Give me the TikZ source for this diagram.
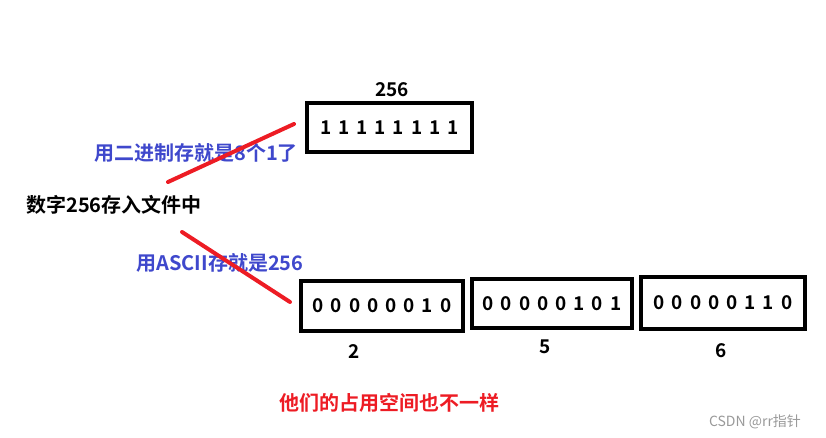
\documentclass[tikz,border=0pt]{standalone}
\usepackage{fontspec}
\setmainfont{Noto Sans CJK SC}[BoldFont=* Bold]
\definecolor{paintblue}{RGB}{63,72,204}
\definecolor{paintred}{RGB}{237,28,36}
\newcommand{\bits}[1]{\foreach \d in {#1}{\d\hspace{7pt}}}
\tikzset{
  cell/.style={draw, line width=4pt, inner sep=0pt, font=\bfseries\fontsize{19}{19}\selectfont},
  lbl/.style={font=\bfseries\fontsize{19}{19}\selectfont, inner sep=0pt},
  note/.style={font=\bfseries\fontsize{20}{20}\selectfont, inner sep=0pt},
  strike/.style={paintred, line width=4pt, line cap=round}
}
\begin{document}
\begin{tikzpicture}[x=1pt, y=-1pt]
      \useasboundingbox (0,0) rectangle (826,438);

      \node[lbl] (n256) at (392,90) {256};
      \node[cell, minimum width=165pt, minimum height=49pt] (bin) at (389.5,127.5) {\bits{1,1,1,1,1,1,1}1};

      \node[note] (start) at (114,205) {数字256存入文件中};
      \node[note, paintblue] (viabin) at (196,153) {用二进制存就是8个1了};

      \node[cell, minimum width=162pt, minimum height=50pt] (ch2) at (382,306) {\bits{0,0,0,0,0,0,1}0};
      \node[cell, minimum width=160pt, minimum height=49pt] (ch5) at (552,303.5) {\bits{0,0,0,0,0,1,0}1};
      \node[cell, minimum width=164pt, minimum height=52pt] (ch6) at (723,303) {\bits{0,0,0,0,0,1,1}0};

      \node[lbl] (d2) at (354,352) {2};
      \node[lbl] (d5) at (545,347) {5};
      \node[lbl] (d6) at (721,351) {6};

      % red strokes
      \coordinate (s1a) at (168,182);
      \coordinate (s1b) at (294,124);
      \coordinate (s2a) at (182,232);
      \coordinate (s2b) at (290,302);
      \draw[strike] (s1a) -- (s1b);
      \node[note, paintblue] (viaascii) at (220,263) {用ASCII存就是256};
      \draw[strike] (s2a) -- (s2b);

      \node[note, paintred] (diff) at (389,403) {他们的占用空间也不一样};
      \node[font=\fontsize{14}{14}\selectfont, text=gray!80, inner sep=0pt] (mark) at (755,422) {CSDN @rr指针};
\end{tikzpicture}
\end{document}
